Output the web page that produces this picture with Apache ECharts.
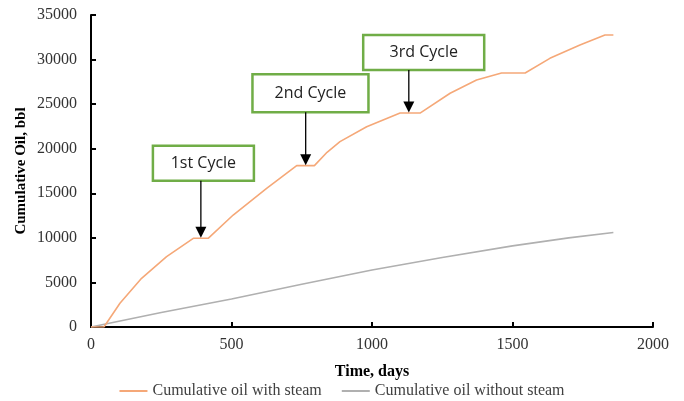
<!DOCTYPE html>
<html>
<head>
<meta charset="utf-8">
<script src="https://cdn.jsdelivr.net/npm/echarts@6/dist/echarts.min.js"></script>
<style>html,body{margin:0;padding:0;background:#fff}#c{width:684px;height:401px}</style>
</head>
<body>
<div id="c"></div>
<script>
// ---- data ----
var steamDays   = [0, 46, 103, 180, 269, 364, 417, 506, 625, 732, 795, 840, 886, 981, 1100, 1171, 1278, 1372, 1461, 1545, 1633, 1740, 1829, 1859];
var steamOil    = [0, 0, 2660, 5460, 7890, 9950, 9950, 12560, 15560, 18100, 18100, 19600, 20790, 22470, 24000, 24000, 26220, 27710, 28500, 28500, 30140, 31640, 32760, 32760];
var noSteamDays = [0, 250, 500, 750, 1000, 1250, 1500, 1700, 1859];
var noSteamOil  = [0, 1620, 3150, 4800, 6400, 7800, 9100, 10000, 10600];
var seriesNames = ['Cumulative oil with steam', 'Cumulative oil without steam'];
var cycleLabels = ['1st Cycle', '2nd Cycle', '3rd Cycle'];
var cycleTipDay = [391, 764, 1131];
var cycleTipOil = [10000, 18150, 24050];
var cycleBoxDay = [400, 781, 1184];
var cycleBoxOil = [18360, 26220, 30790];

function zip(a, b) { return a.map(function (v, i) { return [v, b[i]]; }); }

var chart = echarts.init(document.getElementById('c'));
var serif = '"Liberation Serif", "Times New Roman", serif';
chart.setOption({
  animation: false,
  grid: { left: 91, right: 31, top: 15, bottom: 74 },
  legend: {
    top: 378, left: 'center',
    itemWidth: 28, itemHeight: 2, itemGap: 20, icon: 'rect',
    textStyle: { fontFamily: serif, fontSize: 16, color: '#404040' },
    data: seriesNames
  },
  xAxis: {
    type: 'value', min: 0, max: 2000, interval: 500,
    name: 'Time, days', nameLocation: 'middle', nameGap: 37, nameMoveOverlap: false,
    nameTextStyle: { fontFamily: serif, fontSize: 16, fontWeight: 'bold', color: '#000' },
    axisLine: { lineStyle: { color: '#000', width: 2 } },
    axisTick: { inside: true, length: 5, lineStyle: { color: '#000', width: 2 } },
    axisLabel: { fontFamily: serif, fontSize: 16, color: '#333', margin: 10, formatter: function (v) { return String(v); } },
    splitLine: { show: false }
  },
  yAxis: {
    type: 'value', min: 0, max: 35000, interval: 5000,
    name: 'Cumulative Oil, bbl', nameLocation: 'middle', nameGap: 62, nameMoveOverlap: false,
    nameTextStyle: { fontFamily: serif, fontSize: 15, fontWeight: 'bold', color: '#000' },
    axisLine: { show: true, lineStyle: { color: '#000', width: 2 } },
    axisTick: { show: true, inside: true, length: 5, lineStyle: { color: '#000', width: 2 } },
    axisLabel: { fontFamily: serif, fontSize: 16, color: '#333', margin: 14, formatter: function (v) { return String(v); } },
    splitLine: { show: false }
  },
  series: [
    { name: seriesNames[0], type: 'line', data: zip(steamDays, steamOil), symbol: 'none',
      lineStyle: { color: '#F5A878', width: 1.6 }, itemStyle: { color: '#F5A878' }, z: 3 },
    { name: seriesNames[1], type: 'line', data: zip(noSteamDays, noSteamOil), symbol: 'none',
      lineStyle: { color: '#B0B0B0', width: 1.6 }, itemStyle: { color: '#B0B0B0' }, z: 2 }
  ]
});

// annotations (boxes + arrows) positioned through the chart's own scales
var boxW = [101, 116, 121], boxH = [35, 38, 35];
var g = [];
cycleLabels.forEach(function (lab, i) {
  var tip = chart.convertToPixel({ gridIndex: 0 }, [cycleTipDay[i], cycleTipOil[i]]);
  var bc = chart.convertToPixel({ gridIndex: 0 }, [cycleBoxDay[i], cycleBoxOil[i]]);
  var bx = bc[0] - boxW[i] / 2, by = bc[1] - boxH[i] / 2;
  g.push({ type: 'rect', shape: { x: bx, y: by, width: boxW[i], height: boxH[i] },
    style: { fill: '#fff', stroke: '#70AD47', lineWidth: 2.5 }, z: 10 });
  g.push({ type: 'text', x: bc[0], y: bc[1],
    style: { text: lab, fill: '#222', font: '16px "Open Sans", "Noto Sans", sans-serif', align: 'center', verticalAlign: 'middle' }, z: 11 });
  g.push({ type: 'line', shape: { x1: tip[0], y1: by + boxH[i], x2: tip[0], y2: tip[1] - 9 },
    style: { stroke: '#000', lineWidth: 1.3 }, z: 10 });
  g.push({ type: 'polygon', shape: { points: [[tip[0] - 5.5, tip[1] - 11], [tip[0] + 5.5, tip[1] - 11], [tip[0], tip[1]]] },
    style: { fill: '#000' }, z: 10 });
});
chart.setOption({ graphic: g });
</script>
</body>
</html>
